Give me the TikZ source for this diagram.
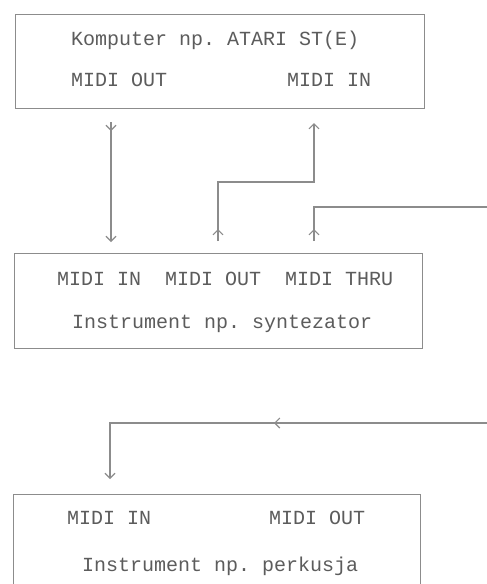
\documentclass[tikz,border=0pt]{standalone}
\usepackage{fontspec}
\setmonofont{Liberation Mono}
\usetikzlibrary{arrows.meta,decorations.markings}

\definecolor{inkgray}{RGB}{92,92,92}
\definecolor{wiregray}{RGB}{140,140,140}

\tikzset{
  unitbox/.style={draw=wiregray, line width=1.1pt, inner sep=0pt, anchor=north west},
  label/.style={inner sep=0pt, anchor=base west, text=inkgray,
                font=\ttfamily\fontsize{20pt}{20pt}\selectfont},
  wire/.style={draw=wiregray, line width=1.1pt},
  barb/.tip={Straight Barb[length=5pt,width=10pt,line width=1.1pt]},
  endtip/.style={-barb},
  headat/.style={postaction={decorate, decoration={markings,
      mark=at position #1 with {\arrow[wiregray]{barb}}}}}
}

\begin{document}
\begin{tikzpicture}[x=1pt, y=-1pt]
  \useasboundingbox (0,0) rectangle (487,584);
  \clip (0,0) rectangle (487,584);
  \fill[white] (0,0) rectangle (487,584);

  % computer
  \node[unitbox, minimum width=409pt, minimum height=94pt] (atari) at (15,14) {};
  \node[label] (atariname) at (71,45) {Komputer np. ATARI ST(E)};
  \node[label] (atariout)  at (71,86) {MIDI OUT};
  \node[label] (atariin)   at (287,86) {MIDI IN};

  % synthesizer
  \node[unitbox, minimum width=408pt, minimum height=95pt] (synth) at (14,253) {};
  \node[label] (synthports) at (57,285) {MIDI IN\ \ MIDI OUT\ \ MIDI THRU};
  \node[label] (synthname)  at (72,328) {Instrument np. syntezator};

  % percussion
  \node[unitbox, minimum width=407pt, minimum height=130pt] (perc) at (13,494) {};
  \node[label] (percin)   at (67,524) {MIDI IN};
  \node[label] (percout)  at (269,524) {MIDI OUT};
  \node[label] (percname) at (82,571) {Instrument np. perkusja};

  % cable ends
  \coordinate (aOut) at (111,122);
  \coordinate (sIn)  at (111,242);
  \coordinate (sOut) at (218,241);
  \coordinate (aIn)  at (314,123);
  \coordinate (sThru) at (314,241);
  \coordinate (thruEnd) at (488,207);
  \coordinate (feedEnd) at (488,423);
  \coordinate (pIn)  at (110,479);

  % computer out -> synth in
  \draw[wire, endtip, headat=9pt] (aOut) -- (sIn);
  % synth out -> computer in
  \draw[wire, endtip, headat=12pt] (sOut) |- (218,182) -| (aIn);
  % synth thru -> onward
  \draw[wire, headat=12pt] (sThru) |- (thruEnd);
  % incoming chain -> percussion in
  \draw[wire, endtip, headat=214pt] (feedEnd) -| (pIn);
\end{tikzpicture}
\end{document}
